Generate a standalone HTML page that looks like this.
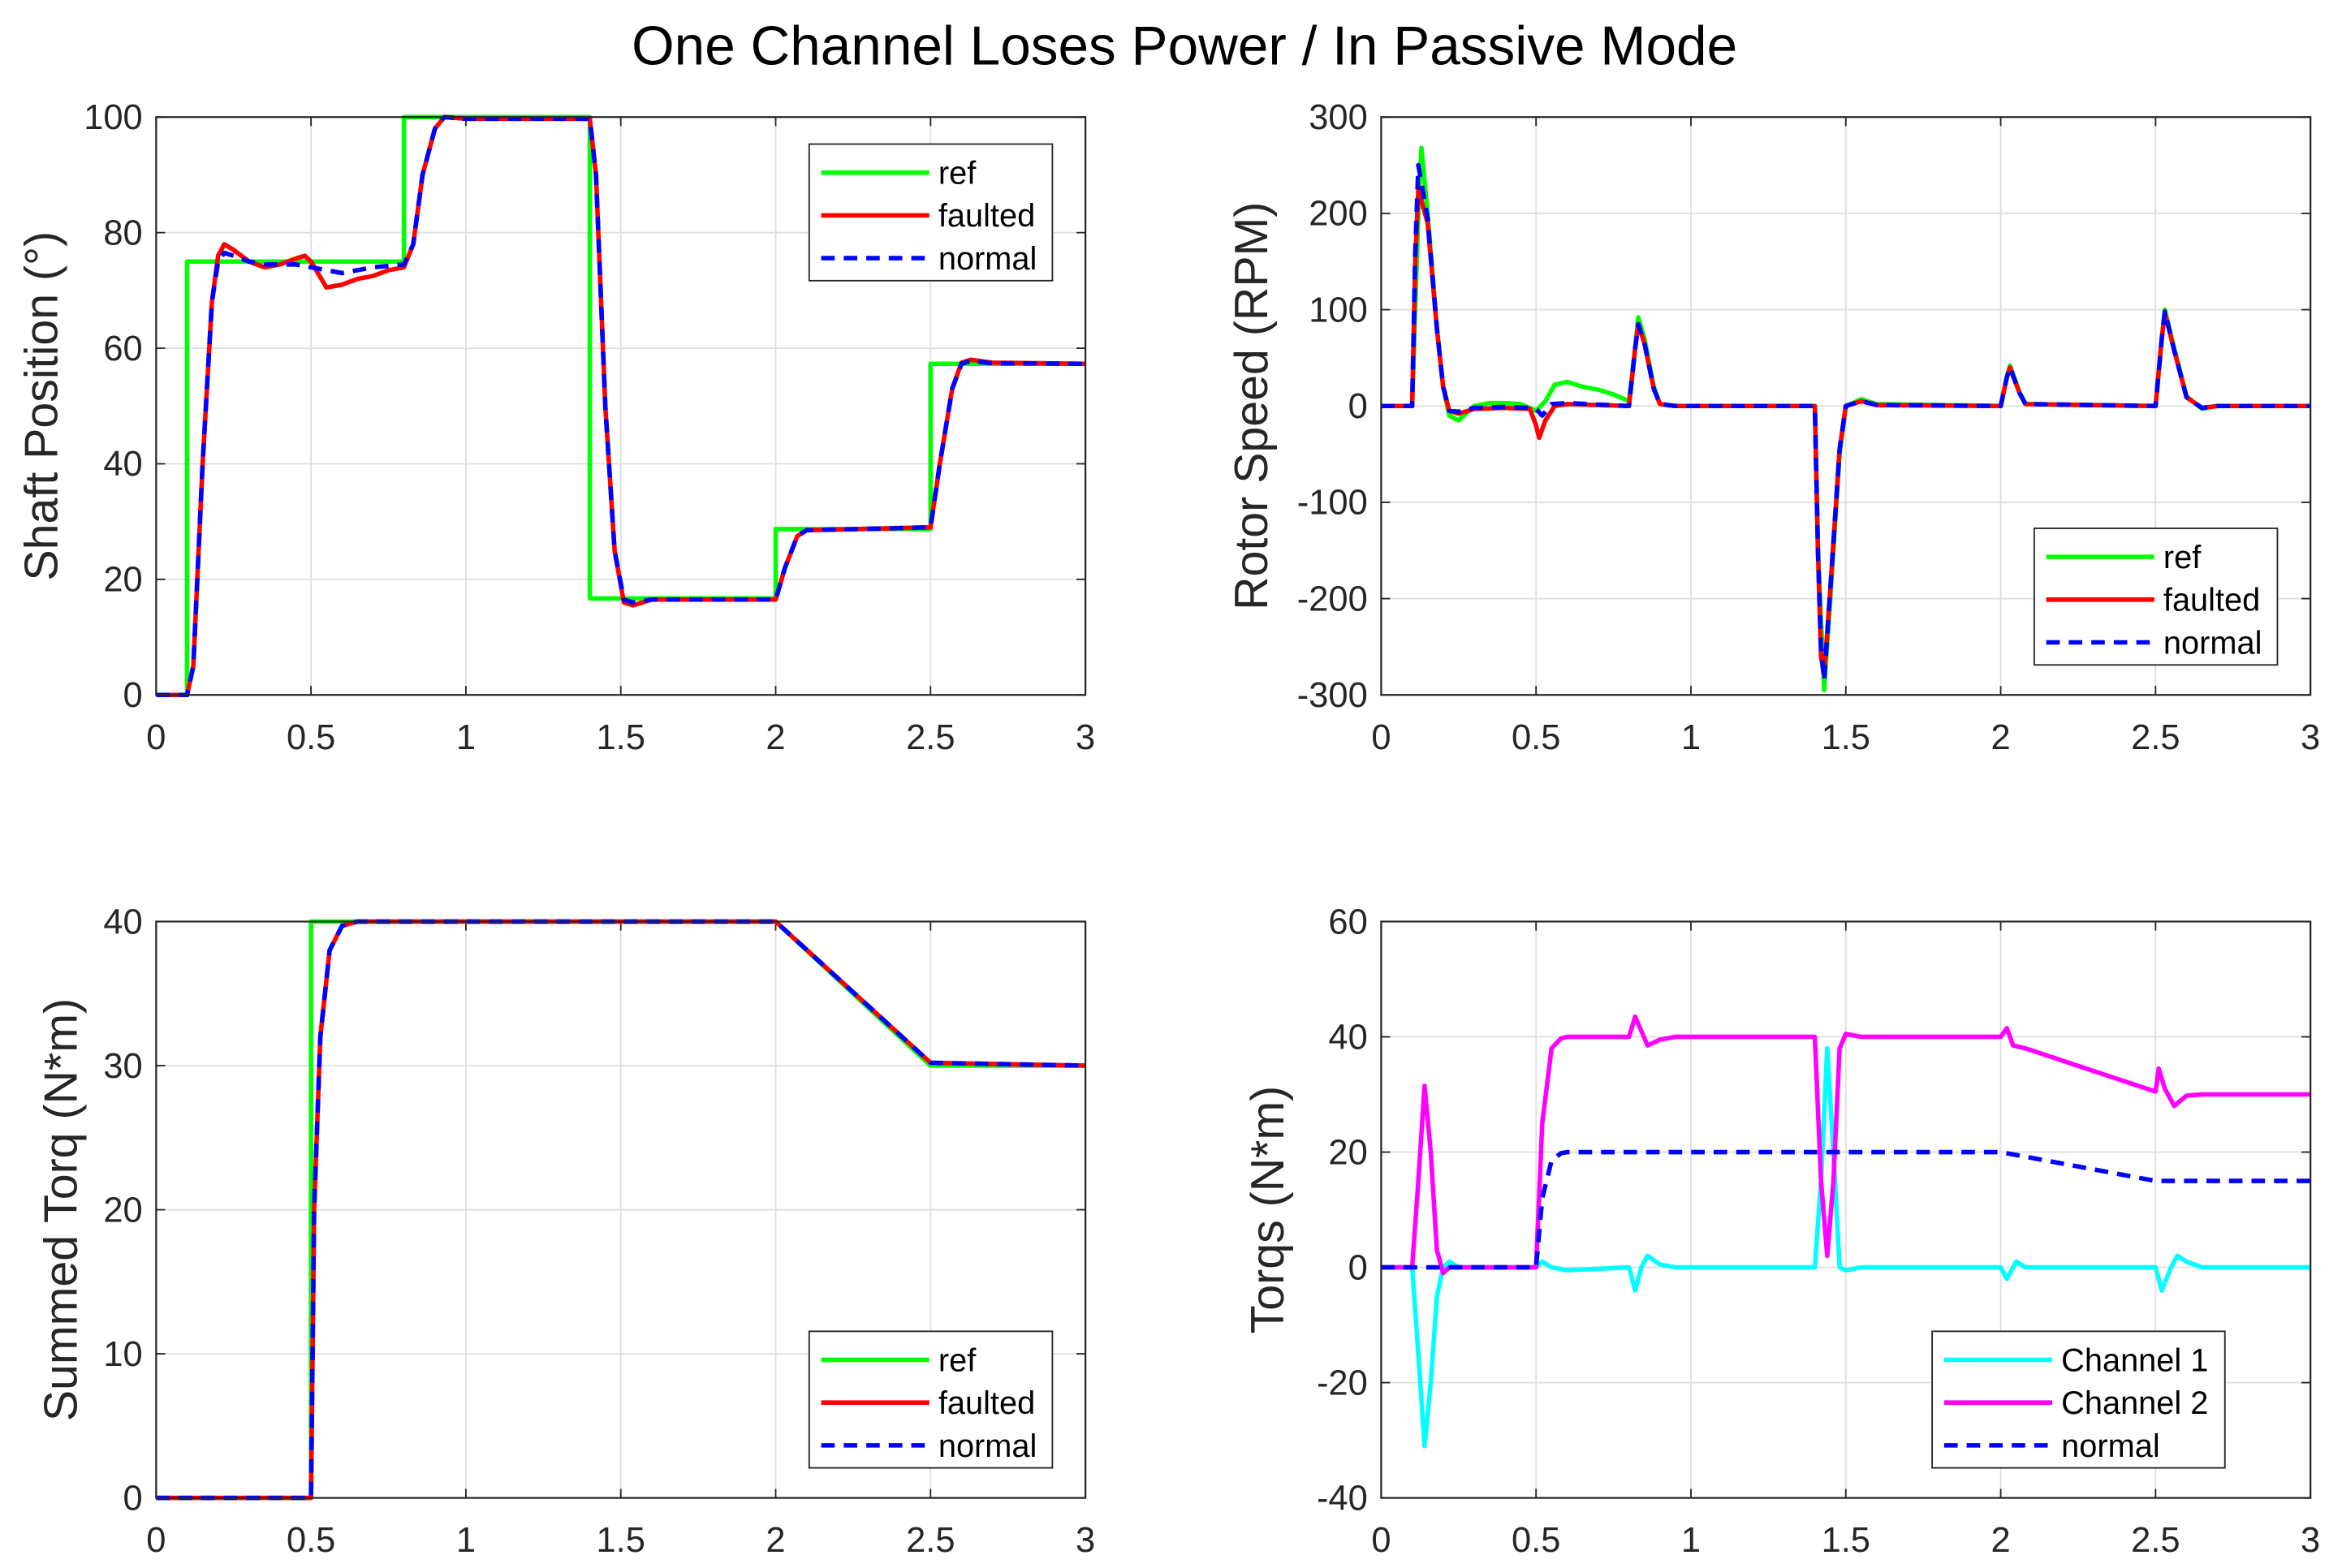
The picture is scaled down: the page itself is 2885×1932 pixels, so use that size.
<!DOCTYPE html>
<html><head><meta charset="utf-8"><style>
html,body{margin:0;padding:0;background:#fff;}
svg{display:block;font-family:"Liberation Sans",sans-serif;}
</style></head><body>
<svg id="fig" width="2885" height="1932" viewBox="0 0 1560 1044.7" xmlns="http://www.w3.org/2000/svg">
<rect width="1560" height="1045" fill="#fff"/>
<text x="789" y="43" font-size="36.5" text-anchor="middle" fill="#000">One Channel Loses Power / In Passive Mode</text>
</svg>
<script>
// ---- data ----
const xTicks = [0,0.5,1,1.5,2,2.5,3];
const xTickLabels = ["0","0.5","1","1.5","2","2.5","3"];
const posTicks = [0,20,40,60,80,100];
const speedTicks = [-300,-200,-100,0,100,200,300];
const sumTicks = [0,10,20,30,40];
const torqTicks = [-40,-20,0,20,40,60];

const posRef = [[0,0],[0.1,0],[0.1,75],[0.8,75],[0.8,100],[1.4,100],[1.4,16.7],[2.0,16.7],[2.0,28.7],[2.5,28.7],[2.5,57.3],[3,57.3]];
const posFaulted = [[0,0],[0.1,0],[0.12,5],[0.15,40],[0.18,68],[0.2,76],[0.22,78],[0.25,77],[0.3,75],[0.35,74],[0.4,74.5],[0.45,75.5],[0.48,76],[0.5,75],[0.55,70.5],[0.6,71],[0.65,72],[0.7,72.5],[0.75,73.5],[0.8,74],[0.83,78],[0.86,90],[0.9,98],[0.93,100],[1.0,99.7],[1.4,99.7],[1.42,90],[1.45,50],[1.48,25],[1.51,16],[1.54,15.5],[1.6,16.5],[2.0,16.5],[2.03,22],[2.07,27.5],[2.1,28.5],[2.5,29],[2.53,40],[2.57,53],[2.6,57.5],[2.63,58],[2.7,57.5],[3,57.3]];
const posNormal = [[0,0],[0.1,0],[0.12,5],[0.15,40],[0.18,68],[0.2,75],[0.22,76.5],[0.25,76],[0.3,75],[0.35,74.5],[0.4,74.5],[0.45,74.5],[0.5,74],[0.6,73],[0.7,74],[0.8,74.5],[0.83,78],[0.86,90],[0.9,98],[0.93,100],[1.0,99.7],[1.4,99.7],[1.42,90],[1.45,50],[1.48,25],[1.51,16.5],[1.54,16],[1.6,16.5],[2.0,16.5],[2.03,22],[2.07,27.5],[2.1,28.5],[2.5,29],[2.53,40],[2.57,53],[2.6,57.3],[2.63,57.8],[2.7,57.4],[3,57.3]];

const spdRef = [[0,0],[0.1,0],[0.12,200],[0.13,268],[0.15,200],[0.18,80],[0.2,20],[0.22,-10],[0.25,-15],[0.3,0],[0.35,3],[0.4,3],[0.45,2],[0.5,-5],[0.53,5],[0.56,22],[0.6,25],[0.65,20],[0.7,17],[0.75,12],[0.8,5],[0.82,60],[0.83,92],[0.85,70],[0.88,20],[0.9,2],[0.95,0],[1.4,0],[1.41,-150],[1.43,-295],[1.45,-200],[1.48,-50],[1.5,0],[1.55,7],[1.6,2],[2.0,0],[2.02,30],[2.03,42],[2.06,15],[2.08,2],[2.5,0],[2.52,70],[2.53,100],[2.56,60],[2.6,10],[2.65,-3],[2.7,0],[3,0]];
const spdFaulted = [[0,0],[0.1,0],[0.11,150],[0.12,225],[0.15,190],[0.18,80],[0.2,20],[0.22,-5],[0.25,-8],[0.3,-3],[0.4,-2],[0.48,-3],[0.5,-20],[0.51,-33],[0.53,-15],[0.56,0],[0.6,2],[0.8,0],[0.82,60],[0.83,85],[0.85,65],[0.88,18],[0.9,2],[0.95,0],[1.4,0],[1.41,-150],[1.42,-260],[1.43,-280],[1.45,-190],[1.48,-45],[1.5,0],[1.55,5],[1.6,1],[2.0,0],[2.02,30],[2.03,40],[2.06,14],[2.08,2],[2.5,0],[2.52,70],[2.53,97],[2.56,58],[2.6,9],[2.65,-2],[2.7,0],[3,0]];
const spdNormal = [[0,0],[0.1,0],[0.11,160],[0.12,250],[0.15,195],[0.18,80],[0.2,20],[0.22,-5],[0.25,-6],[0.3,-2],[0.4,-1],[0.48,-2],[0.5,-3],[0.52,-10],[0.55,2],[0.6,3],[0.8,0],[0.82,60],[0.83,85],[0.85,65],[0.88,18],[0.9,2],[0.95,0],[1.4,0],[1.41,-150],[1.42,-250],[1.43,-285],[1.45,-190],[1.48,-45],[1.5,0],[1.55,5],[1.6,1],[2.0,0],[2.02,30],[2.03,40],[2.06,14],[2.08,2],[2.5,0],[2.52,70],[2.53,98],[2.56,58],[2.6,9],[2.65,-2],[2.7,0],[3,0]];

const sumRef = [[0,0],[0.5,0],[0.5,40],[2.0,40],[2.5,30],[3,30]];
const sumFaulted = [[0,0],[0.5,0],[0.51,20],[0.53,32],[0.56,38],[0.6,39.7],[0.65,40],[2.0,40],[2.5,30.2],[3,30]];
const sumNormal = [[0,0],[0.5,0],[0.51,20],[0.53,32],[0.56,38],[0.6,39.7],[0.65,40],[2.0,40],[2.5,30.2],[3,30]];

const ch1 = [[0,0],[0.1,0],[0.12,-15],[0.14,-31],[0.16,-20],[0.18,-5],[0.2,0],[0.22,1],[0.25,0],[0.5,0],[0.52,1],[0.55,0],[0.6,-0.5],[0.8,0],[0.82,-4],[0.84,0],[0.86,2],[0.9,0.5],[0.95,0],[1.4,0],[1.42,15],[1.44,38],[1.46,20],[1.48,0],[1.5,-0.5],[1.55,0],[2.0,0],[2.02,-2],[2.05,1],[2.08,0],[2.5,0],[2.52,-4],[2.55,0],[2.57,2],[2.6,1],[2.65,0],[3,0]];
const ch2 = [[0,0],[0.1,0],[0.12,15],[0.14,31.5],[0.16,20],[0.18,3],[0.2,-1],[0.22,0],[0.5,0],[0.52,25],[0.55,38],[0.58,39.7],[0.6,40],[0.8,40],[0.82,43.5],[0.84,41],[0.86,38.5],[0.9,39.5],[0.95,40],[1.4,40],[1.42,15],[1.44,2],[1.46,15],[1.48,38],[1.5,40.5],[1.55,40],[2.0,40],[2.02,41.5],[2.04,38.5],[2.08,38],[2.5,30.5],[2.51,34.5],[2.53,31],[2.56,28],[2.6,29.8],[2.65,30],[3,30]];
const torqNormal = [[0,0],[0.5,0],[0.52,12],[0.55,18.5],[0.58,19.8],[0.6,20],[2.0,20],[2.5,15],[3,15]];

// ---- drawing ----
const NS="http://www.w3.org/2000/svg";
const svg=document.getElementById('fig');
function mk(tag,attrs,parent){const e=document.createElementNS(NS,tag);for(const k in attrs)e.setAttribute(k,attrs[k]);(parent||svg).appendChild(e);return e;}

function axes(name,box,ymin,ymax,yTicks,ylabel,labelOff,series,legend){
  const g=mk('g',{});
  
  
  const sx=t=>box.x0+(t-0)/3*(box.x1-box.x0);
  const sy=v=>box.y1-(v-ymin)/(ymax-ymin)*(box.y1-box.y0);
  mk('rect',{x:box.x0,y:box.y0,width:box.x1-box.x0,height:box.y1-box.y0,fill:'#fff'},g);
  xTicks.forEach((t,i)=>{
    const x=sx(t);
    mk('line',{x1:x,x2:x,y1:box.y0,y2:box.y1,stroke:'#dfdfdf','stroke-width':1},g);
    mk('line',{x1:x,x2:x,y1:box.y1,y2:box.y1-6,stroke:'#262626','stroke-width':1},g);
    mk('line',{x1:x,x2:x,y1:box.y0,y2:box.y0+6,stroke:'#262626','stroke-width':1},g);
    const tx=mk('text',{x:x,y:box.y1+36,'font-size':23.5,'text-anchor':'middle',fill:'#262626'},g);
    
    
    tx.textContent=xTickLabels[i];
  });
  yTicks.forEach(v=>{
    const y=sy(v);
    mk('line',{x1:box.x0,x2:box.x1,y1:y,y2:y,stroke:'#dfdfdf','stroke-width':1},g);
    mk('line',{x1:box.x0,x2:box.x0+6,y1:y,y2:y,stroke:'#262626','stroke-width':1},g);
    mk('line',{x1:box.x1,x2:box.x1-6,y1:y,y2:y,stroke:'#262626','stroke-width':1},g);
    const ty=mk('text',{x:box.x0-9,y:y+8,'font-size':23.5,'text-anchor':'end',fill:'#262626'},g);
    
    
    ty.textContent=String(v);
  });
  const cx=box.x0-labelOff, cy=(box.y0+box.y1)/2;
  const yl=mk('text',{x:cx,y:cy,'font-size':31,'text-anchor':'middle',fill:'#262626',transform:`rotate(-90 ${cx} ${cy})`},g);
  
  
  yl.textContent=ylabel;
  const clipId=name+'-clip';
  const cp=mk('clipPath',{id:clipId},g);
  mk('rect',{x:box.x0,y:box.y0-4,width:box.x1-box.x0,height:box.y1-box.y0+8},cp);
  series.forEach(s=>{
    const d=s.data.map((p,i)=>(i?'L':'M')+sx(p[0]).toFixed(2)+' '+sy(p[1]).toFixed(2)).join(' ');
    const p=mk('path',{d:d,fill:'none',stroke:s.color,'stroke-width':3,'stroke-linejoin':'round','clip-path':`url(#${clipId})`},g);
    if(s.dash)p.setAttribute('stroke-dasharray','9 6');
    
    
  });
  mk('rect',{x:box.x0,y:box.y0,width:box.x1-box.x0,height:box.y1-box.y0,fill:'none',stroke:'#262626','stroke-width':1.2},g);
  const lg=mk('g',{},g);
  
  
  mk('rect',{x:legend.x,y:legend.y,width:legend.w,height:91,fill:'#fff',stroke:'#262626','stroke-width':1},lg);
  series.forEach((s,i)=>{
    const y=legend.y+19+i*28.5;
    const ln=mk('line',{x1:legend.x+8,x2:legend.x+80,y1:y,y2:y,stroke:s.color,'stroke-width':3},lg);
    if(s.dash)ln.setAttribute('stroke-dasharray','9 6');
    const t=mk('text',{x:legend.x+86,y:y+7.5,'font-size':21.5,fill:'#000'},lg);
    
    
    t.textContent=s.label;
  });
}
const G='#00ff00',R='#ff0000',B='#0000ff';
axes('shaft-position-plot',{x0:104,x1:723,y0:78,y1:463},0,100,posTicks,'Shaft Position (°)',66,
  [{data:posRef,color:G,label:'ref',name:'ref'},{data:posFaulted,color:R,label:'faulted',name:'faulted'},{data:posNormal,color:B,dash:true,label:'normal',name:'normal'}],
  {x:539,y:96,w:162});
axes('rotor-speed-plot',{x0:920,x1:1539,y0:78,y1:463},-300,300,speedTicks,'Rotor Speed (RPM)',76,
  [{data:spdRef,color:G,label:'ref',name:'ref'},{data:spdFaulted,color:R,label:'faulted',name:'faulted'},{data:spdNormal,color:B,dash:true,label:'normal',name:'normal'}],
  {x:1355,y:352,w:162});
axes('summed-torque-plot',{x0:104,x1:723,y0:614,y1:998},0,40,sumTicks,'Summed Torq (N*m)',53,
  [{data:sumRef,color:G,label:'ref',name:'ref'},{data:sumFaulted,color:R,label:'faulted',name:'faulted'},{data:sumNormal,color:B,dash:true,label:'normal',name:'normal'}],
  {x:539,y:887,w:162});
axes('channel-torques-plot',{x0:920,x1:1539,y0:614,y1:998},-40,60,torqTicks,'Torqs (N*m)',65,
  [{data:ch1,color:'#00ffff',label:'Channel 1',name:'channel-1'},{data:ch2,color:'#ff00ff',label:'Channel 2',name:'channel-2'},{data:torqNormal,color:B,dash:true,label:'normal',name:'normal'}],
  {x:1287,y:887,w:195});
</script>
</body></html>
